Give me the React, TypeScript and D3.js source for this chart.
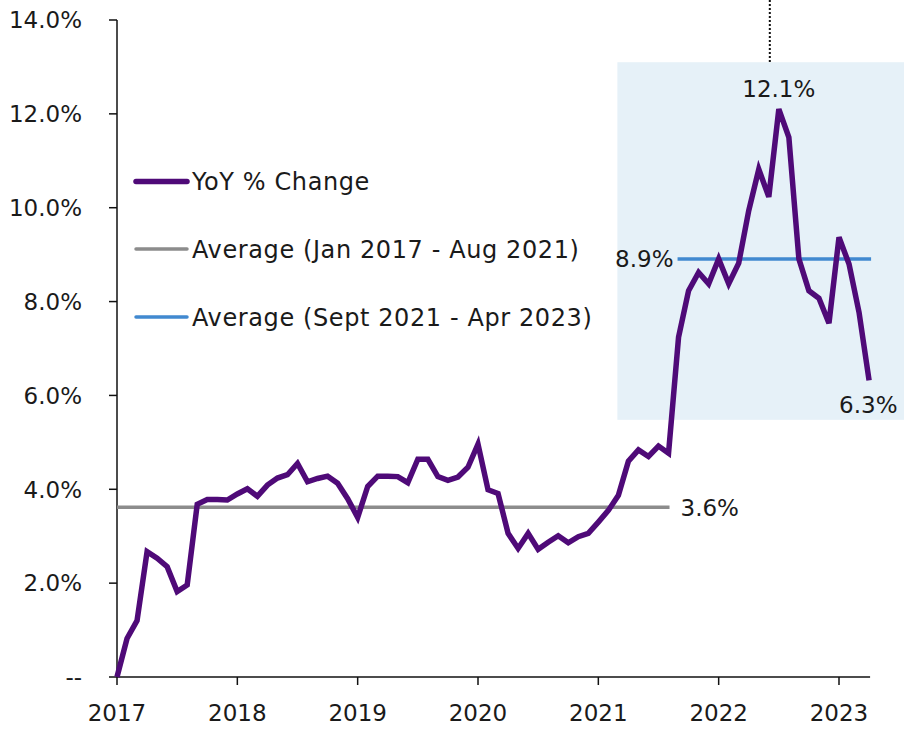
import React from "react";
import * as d3 from "d3";

// Monthly YoY % change, Jan 2017 – Apr 2023
const yoy2017 = [0.0, 0.82, 1.2, 2.67, 2.53, 2.35, 1.82, 1.96, 3.68, 3.78, 3.78, 3.77];
const yoy2018 = [3.9, 4.01, 3.85, 4.09, 4.24, 4.31, 4.55, 4.16, 4.23, 4.28, 4.13, 3.8];
const yoy2019 = [3.4, 4.06, 4.28, 4.28, 4.27, 4.14, 4.64, 4.64, 4.27, 4.19, 4.26, 4.47];
const yoy2020 = [4.96, 3.99, 3.91, 3.06, 2.74, 3.06, 2.72, 2.87, 3.01, 2.86, 2.99, 3.06];
const yoy2021 = [3.3, 3.55, 3.87, 4.6, 4.84, 4.7, 4.92, 4.77, 7.24, 8.23, 8.62, 8.38];
const yoy2022 = [8.91, 8.38, 8.82, 9.94, 10.82, 10.23, 12.1, 11.5, 8.91, 8.23, 8.07, 7.54];
const yoy2023 = [9.37, 8.8, 7.77, 6.32];

const values = [...yoy2017, ...yoy2018, ...yoy2019, ...yoy2020, ...yoy2021, ...yoy2022, ...yoy2023];
const yearLabels = ["2017", "2018", "2019", "2020", "2021", "2022", "2023"];
const yTicks = [0, 2, 4, 6, 8, 10, 12, 14];
const legendLabels = ["YoY % Change", "Average (Jan 2017 - Aug 2021)", "Average (Sept 2021 - Apr 2023)"];

const splitIndex = 56; // Sep 2021
const preAvg = d3.mean(values.slice(0, splitIndex)) as number;
const postAvg = d3.mean(values.slice(splitIndex)) as number;
const peakIndex = d3.maxIndex(values);
const lastIndex = values.length - 1;

const PURPLE = "#4F0A78";
const GREY = "#8C8C8C";
const BLUE = "#4189D0";
const SHADE = "#E6F1F8";
const TEXT = "#1A1A1A";
const FONT = "'DejaVu Sans', sans-serif";

export default function App() {
  const W = 904, H = 732;
  const x = d3.scaleLinear().domain([0, 72]).range([117, 839]);
  const y = d3.scaleLinear().domain([0, 14]).range([677, 20]);
  const line = d3.line<number>().x((_, i) => x(i)).y((d) => y(d));

  const fs = 23;
  return (
    <svg width={W} height={H} style={{ position: "absolute", left: 0, top: 0, background: "#fff" }} fontFamily={FONT}>
      {/* shaded region */}
      <rect x={x(49.9)} y={y(13.1)} width={W - x(49.9)} height={y(5.48) - y(13.1)} fill={SHADE} />
      {/* dotted marker line */}
      <line x1={x(65.1)} x2={x(65.1)} y1={0} y2={y(13.1)} stroke="#111" strokeWidth={2} strokeDasharray="2,2" />

      {/* axes */}
      <line x1={x(0)} x2={x(0)} y1={y(14)} y2={y(0)} stroke="#111" strokeWidth={1.5} />
      <line x1={x(0)} x2={x(lastIndex) + 1} y1={y(0)} y2={y(0)} stroke="#111" strokeWidth={1.5} />
      {yTicks.map((t) => (
        <g key={t}>
          <line x1={x(0) - 8} x2={x(0)} y1={y(t)} y2={y(t)} stroke="#111" strokeWidth={1.5} />
          <text x={82} y={y(t)} dy="0.36em" textAnchor="end" fontSize={fs} fill={TEXT}>
            {t === 0 ? "--" : `${t.toFixed(1)}%`}
          </text>
        </g>
      ))}
      {yearLabels.map((lab, i) => (
        <g key={lab}>
          <line x1={x(i * 12)} x2={x(i * 12)} y1={y(0)} y2={y(0) + 8} stroke="#111" strokeWidth={1.5} />
          <text x={x(i * 12)} y={721} textAnchor="middle" fontSize={fs} fill={TEXT}>{lab}</text>
        </g>
      ))}

      {/* averages */}
      <line x1={x(0)} x2={x(splitIndex - 1) + 1} y1={y(preAvg)} y2={y(preAvg)} stroke={GREY} strokeWidth={3.5} />
      <line x1={x(splitIndex) - 1} x2={x(lastIndex) + 2} y1={y(postAvg)} y2={y(postAvg)} stroke={BLUE} strokeWidth={3.5} />

      {/* main series */}
      <path d={line(values) as string} fill="none" stroke={PURPLE} strokeWidth={5.5} strokeLinejoin="miter" />

      {/* value labels */}
      <text x={x(splitIndex - 1) + 12} y={y(preAvg)} dy="0.36em" fontSize={fs} fill={TEXT}>{`${preAvg.toFixed(1)}%`}</text>
      <text x={x(splitIndex) - 5} y={y(postAvg)} dy="0.36em" textAnchor="end" fontSize={fs} fill={TEXT}>{`${postAvg.toFixed(1)}%`}</text>
      <text x={x(peakIndex)} y={97} textAnchor="middle" fontSize={fs} fill={TEXT}>{`${values[peakIndex].toFixed(1)}%`}</text>
      <text x={x(lastIndex) - 30} y={413} textAnchor="start" fontSize={fs} fill={TEXT}>{`${values[lastIndex].toFixed(1)}%`}</text>

      {/* legend */}
      {legendLabels.map((lab, i) => {
        const ly = [181.5, 249, 317][i];
        const col = [PURPLE, GREY, BLUE][i];
        return (
          <g key={lab}>
            <line x1={136} x2={187} y1={ly} y2={ly} stroke={col} strokeWidth={i === 0 ? 5.5 : 3.5} strokeLinecap="round" />
            <text x={192} y={ly} dy="0.36em" fontSize={24} letterSpacing={0.6} fill={TEXT}>{lab}</text>
          </g>
        );
      })}
    </svg>
  );
}
